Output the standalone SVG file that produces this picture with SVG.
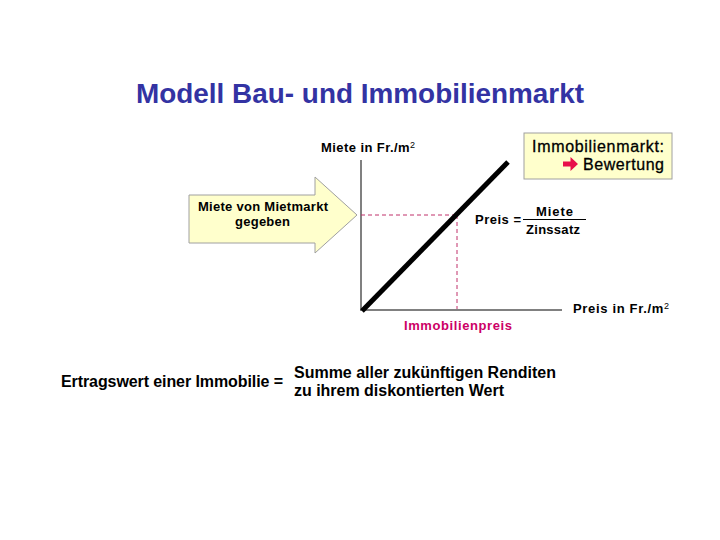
<svg xmlns="http://www.w3.org/2000/svg" width="720" height="540" viewBox="0 0 720 540">
<style>
text{font-family:"Liberation Sans",Arial,sans-serif;fill:#000;font-weight:bold}
.title{font-size:28px;fill:#3333a3}
.s{font-size:13px}
.m{font-size:16px}
.box{font-size:16px;font-weight:normal;stroke:#000;stroke-width:0.3}
.dash{stroke:#c0306a;stroke-width:1;stroke-dasharray:4,3;fill:none}
.axis{stroke:#808080;stroke-width:2;fill:none}
.shape{fill:#ffffcc;stroke:#a0a0a0;stroke-width:1}
</style>
<rect width="720" height="540" fill="#fff"/>
<text class="title" x="136" y="103" textLength="448" lengthAdjust="spacingAndGlyphs">Modell Bau- und Immobilienmarkt</text>
<g id="chart">
<line class="axis" x1="361" y1="160" x2="361" y2="310"/>
<line class="axis" x1="360" y1="310" x2="562" y2="310"/>
<line class="dash" x1="361" y1="215" x2="457" y2="215"/>
<line class="dash" x1="457" y1="215" x2="457" y2="309"/>
<line x1="362" y1="311" x2="508" y2="162" stroke="#000" stroke-width="5"/>
<text class="s" x="321" y="152" textLength="94">Miete in Fr./m<tspan font-size="9" dy="-4" font-weight="normal">2</tspan></text>
<text class="s" x="573" y="313" textLength="96">Preis in Fr./m<tspan font-size="9" dy="-4" font-weight="normal">2</tspan></text>
<text class="s" x="404" y="330" textLength="108" style="fill:#cc0066">Immobilienpreis</text>
</g>
<g id="formula">
<text class="s" x="475" y="224" textLength="46">Preis =</text>
<text class="s" x="536" y="216" textLength="37">Miete</text>
<line x1="523" y1="219.5" x2="586" y2="219.5" stroke="#000" stroke-width="1"/>
<text class="s" x="526" y="234" textLength="54">Zinssatz</text>
</g>
<g id="box">
<rect class="shape" x="524" y="133" width="148" height="46"/>
<text class="box" x="532" y="152" textLength="132">Immobilienmarkt:</text>
<path d="M563,161.5 H570.5 V157 L578,164 L570.5,171 V166.5 H563 Z" fill="#e8104a"/>
<text class="box" x="583" y="170" textLength="81">Bewertung</text>
</g>
<g id="arrow">
<path class="shape" d="M189,195 H315 V177 L357,215 L315,253 V243 H189 Z"/>
<text class="s" x="198" y="211" textLength="130">Miete von Mietmarkt</text>
<text class="s" x="235" y="226" textLength="55">gegeben</text>
</g>
<g id="ertrag">
<text class="m" x="61" y="387" textLength="222">Ertragswert einer Immobilie =</text>
<text class="m" x="294" y="378" textLength="262">Summe aller zukünftigen Renditen</text>
<text class="m" x="294" y="396" textLength="210">zu ihrem diskontierten Wert</text>
</g>
</svg>
